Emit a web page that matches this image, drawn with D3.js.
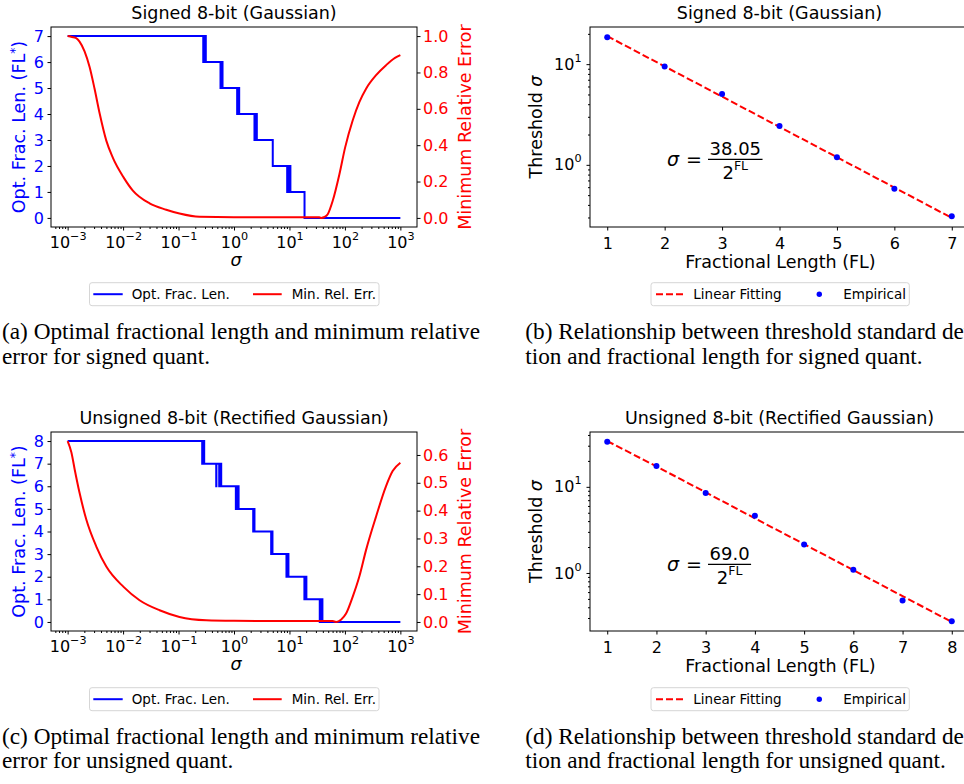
<!DOCTYPE html>
<html>
<head>
<meta charset="utf-8">
<script src="https://cdn.jsdelivr.net/npm/d3@7"></script>
<style>
  body { margin: 0; background: #fff; }
  text { font-family: 'DejaVu Sans', sans-serif; }
  text.caption { font-family: 'Liberation Serif', serif; }
</style>
</head>
<body>
<div id="figure"></div>
<script>
// sigma range swept in the left panels
var sigmaRange = [0.001, 1000];

// (a) signed 8-bit: optimal fractional length steps
var signedLevels = [7, 6, 5, 4, 3, 2, 1, 0];
// sigma values where FL* flips between two neighbouring levels (noisy bands)
var signedFlips = [[0.279, 0.295, 0.310], [0.571, 0.596, 0.621], [1.14, 1.19, 1.24],
  [2.34, 2.46, 2.58], [5.0], [9.1, 9.7, 10.4], [18.7]];
// (a) minimum relative error
var signedErrSigma = [0.001, 0.0012, 0.0014, 0.00164, 0.00202, 0.00249, 0.00306, 0.00378,
  0.00498, 0.00655, 0.0102, 0.015, 0.03, 0.06, 0.104, 0.239, 1, 10, 34.7, 37.2, 43, 49,
  60.3, 79.6, 101, 138, 182, 241, 365, 552, 800, 1000];
var signedErrValue = [1.0, 0.995, 0.99, 0.97, 0.916, 0.83, 0.71, 0.574,
  0.425, 0.33, 0.223, 0.15, 0.08, 0.045, 0.024, 0.006, 0.004, 0.004, 0.004, 0.0, 0.005, 0.02,
  0.094, 0.24, 0.388, 0.536, 0.637, 0.711, 0.785, 0.84, 0.88, 0.895];

// (b) signed threshold sigma vs fractional length
var signedFL = [1, 2, 3, 4, 5, 6, 7];
var signedEmpirical = [18.5, 9.5, 5.05, 2.43, 1.19, 0.58, 0.308];
var signedFitted = [19.0, 9.5, 4.76, 2.38, 1.19, 0.595, 0.297];

// (c) unsigned 8-bit: optimal fractional length steps
var unsignedLevels = [8, 7, 6, 5, 4, 3, 2, 1, 0];
var unsignedFlips = [[0.267, 0.278, 0.290], [0.478, 0.482, 0.541, 0.565, 0.588], [1.08, 1.14, 1.21],
  [2.22, 2.28, 2.34], [4.68, 4.8, 4.94], [8.83, 9.2, 9.59], [18.6, 19.4, 20.2], [35.2, 37.2, 39.3]];
// (c) minimum relative error
var unsignedErrSigma = [0.001, 0.00117, 0.00134, 0.00164, 0.00217, 0.00329, 0.00498, 0.0102,
  0.0198, 0.0455, 0.104, 0.315, 1, 10, 60.3, 69.3, 85, 105, 138, 182, 241, 365, 552, 726, 1000];
var unsignedErrValue = [0.65, 0.609, 0.548, 0.464, 0.368, 0.271, 0.199, 0.126,
  0.078, 0.042, 0.018, 0.006, 0.004, 0.003, 0.003, 0.0, 0.008, 0.03, 0.09, 0.163, 0.259, 0.379, 0.488, 0.542, 0.572];

// (d) unsigned threshold sigma vs fractional length
var unsignedFL = [1, 2, 3, 4, 5, 6, 7, 8];
var unsignedEmpirical = [33.3, 17.5, 8.46, 4.63, 2.14, 1.09, 0.48, 0.275];
var unsignedFitted = [34.0, 17.25, 8.63, 4.31, 2.16, 1.08, 0.539, 0.27];

// captions
var captionA = ['(a) Optimal fractional length and minimum relative', 'error for signed quant.'];
var captionB = ['(b) Relationship between threshold standard devia-', 'tion and fractional length for signed quant.'];
var captionC = ['(c) Optimal fractional length and minimum relative', 'error for unsigned quant.'];
var captionD = ['(d) Relationship between threshold standard devia-', 'tion and fractional length for unsigned quant.'];

var BLUE = '#0000ff', RED = '#ff0000';
var tickFont = 16, labelFont = 17.5, legendFont = 13.5;

var svg = d3.select('#figure').append('svg')
  .attr('width', 964)
  .attr('height', 784);

svg.append('rect').attr('width', 964).attr('height', 784).attr('fill', '#fff');

// matplotlib-like 5% margins
function padExtent(values, log) {
  var f = log ? Math.log10 : function (v) { return v; };
  var lo = f(d3.min(values)), hi = f(d3.max(values)), m = (hi - lo) * 0.05;
  return log ? [Math.pow(10, lo - m), Math.pow(10, hi + m)] : [lo - m, hi + m];
}

function minorLogTicks(domain) {
  var out = [];
  d3.range(-5, 5).forEach(function (e) {
    d3.range(2, 10).forEach(function (m) {
      var v = m * Math.pow(10, e);
      if (v >= domain[0] && v <= domain[1]) out.push(v);
    });
  });
  return out;
}

function decadeTicks(domain) {
  return d3.range(Math.ceil(Math.log10(domain[0])), Math.floor(Math.log10(domain[1])) + 1)
    .map(function (e) { return Math.pow(10, e); });
}

// writes 10^e into a text element
function powLabel(sel, d, size) {
  var e = Math.round(Math.log10(d));
  sel.text(null);
  sel.append('tspan').text('10');
  sel.append('tspan')
    .attr('dy', -0.5 * size)
    .attr('font-size', size * 0.7)
    .text(e < 0 ? '\u2212' + (-e) : String(e));
}

function styleAxis(g, color) {
  g.attr('font-size', tickFont).attr('font-family', null);
  g.select('.domain').remove();
  g.selectAll('.tick line').attr('stroke', '#000');
  g.selectAll('.tick text').attr('fill', color || '#000');
}

function stepPoints(levels, flips) {
  var pts = [[sigmaRange[0], levels[0]]];
  levels.slice(0, -1).forEach(function (lv, i) {
    var cur = lv;
    flips[i].forEach(function (s) {
      pts.push([s, cur]);
      cur = cur === lv ? levels[i + 1] : lv;
      pts.push([s, cur]);
    });
  });
  pts.push([sigmaRange[1], levels[levels.length - 1]]);
  return pts;
}

function drawFrame(g, x0, x1, top, bottom) {
  g.append('rect')
    .attr('x', x0).attr('y', top)
    .attr('width', x1 - x0).attr('height', bottom - top)
    .attr('fill', 'none')
    .attr('stroke', '#000')
    .attr('stroke-width', 1);
}

function drawTitle(g, text, cx, top) {
  g.append('text')
    .attr('x', cx).attr('y', top - 8)
    .attr('text-anchor', 'middle')
    .attr('font-size', labelFont)
    .text(text);
}

function legendBox(g, x, y, w) {
  g.append('rect')
    .attr('x', x).attr('y', y)
    .attr('width', w).attr('height', 23)
    .attr('rx', 2.5)
    .attr('fill', '#fff')
    .attr('stroke', '#d6d6d6')
    .attr('stroke-width', 1);
}

function legendText(g, x, y, text) {
  g.append('text')
    .attr('x', x).attr('y', y + 16)
    .attr('font-size', legendFont)
    .text(text);
}

// ---- left panels: FL* steps (blue) and min relative error (red)
function drawStepPanel(top, bottom, title, levels, flips, errSigma, errValue, errStep) {
  var x0 = 51, x1 = 417;
  var g = svg.append('g');

  var x = d3.scaleLog().domain(padExtent(sigmaRange, true)).range([x0, x1]);
  var y = d3.scaleLinear().domain(padExtent(levels, false)).range([bottom, top]);
  var r = d3.scaleLinear().domain(padExtent(errValue, false)).range([bottom, top]);

  // minor x ticks
  g.append('g')
    .attr('transform', `translate(0, ${bottom})`)
    .call(d3.axisBottom(x).tickValues(minorLogTicks(x.domain())).tickSize(2).tickFormat(function () { return ''; }))
    .call(styleAxis);

  // major x ticks
  var xAxis = g.append('g')
    .attr('transform', `translate(0, ${bottom})`)
    .call(d3.axisBottom(x).tickValues(decadeTicks(x.domain())).tickSize(3.5))
    .call(styleAxis);
  xAxis.selectAll('.tick text').each(function (d) {
    powLabel(d3.select(this).attr('y', 21).attr('dy', null), d, tickFont);
  });

  // left axis (FL*)
  g.append('g')
    .attr('transform', `translate(${x0}, 0)`)
    .call(d3.axisLeft(y).tickValues(d3.range(0, d3.max(levels) + 1)).tickSize(3.5).tickPadding(3.5))
    .call(styleAxis, BLUE);

  // right axis (error)
  g.append('g')
    .attr('transform', `translate(${x1}, 0)`)
    .call(d3.axisRight(r).tickValues(d3.range(0, d3.max(errValue) + 1e-9, errStep))
      .tickFormat(d3.format('.1f')).tickSize(3.5).tickPadding(2.5))
    .call(styleAxis, RED);

  var stepLine = d3.line()
    .x(d => x(d[0]))
    .y(d => y(d[1]));

  g.append('path')
    .attr('d', stepLine(stepPoints(levels, flips)))
    .attr('fill', 'none')
    .attr('stroke', BLUE)
    .attr('stroke-width', 2);

  var errLine = d3.line()
    .x((d, i) => x(errSigma[i]))
    .y(d => r(d))
    .curve(d3.curveMonotoneX);

  g.append('path')
    .attr('d', errLine(errValue))
    .attr('fill', 'none')
    .attr('stroke', RED)
    .attr('stroke-width', 2)
    .attr('stroke-linejoin', 'round');

  drawFrame(g, x0, x1, top, bottom);
  drawTitle(g, title, (x0 + x1) / 2, top);

  // x label
  g.append('text')
    .attr('x', (x0 + x1) / 2 + 2).attr('y', bottom + 39)
    .attr('text-anchor', 'middle')
    .attr('font-size', labelFont)
    .attr('font-style', 'italic')
    .text('\u03c3');

  // left y label
  var yl = g.append('text')
    .attr('transform', `translate(25, ${(top + bottom) / 2}) rotate(-90)`)
    .attr('text-anchor', 'middle')
    .attr('font-size', labelFont)
    .attr('fill', BLUE);
  yl.append('tspan').text('Opt. Frac. Len. (FL');
  yl.append('tspan').attr('dy', -6).attr('font-size', labelFont * 0.7).text('*');
  yl.append('tspan').attr('dy', 6).text(')');

  // right y label
  g.append('text')
    .attr('transform', `translate(471, ${(top + bottom) / 2}) rotate(-90)`)
    .attr('text-anchor', 'middle')
    .attr('font-size', labelFont)
    .attr('fill', RED)
    .text('Minimum Relative Error');

  // legend
  var ly = top + 255.7;
  legendBox(g, 89.5, ly, 289.5);
  g.append('line').attr('x1', 93.3).attr('x2', 122.7).attr('y1', ly + 11.5).attr('y2', ly + 11.5)
    .attr('stroke', BLUE).attr('stroke-width', 2);
  legendText(g, 131.7, ly, 'Opt. Frac. Len.');
  g.append('line').attr('x1', 253).attr('x2', 281.7).attr('y1', ly + 11.5).attr('y2', ly + 11.5)
    .attr('stroke', RED).attr('stroke-width', 2);
  legendText(g, 291.7, ly, 'Min. Rel. Err.');
}

// ---- right panels: threshold sigma vs FL on log scale
function drawFitPanel(top, bottom, title, fl, empirical, fitted, coef) {
  var x0 = 590, x1 = 969;
  var g = svg.append('g');

  var x = d3.scaleLinear().domain(padExtent(fl, false)).range([x0, x1]);
  var y = d3.scaleLog().domain(padExtent(empirical.concat(fitted), true)).range([bottom, top]);

  g.append('g')
    .attr('transform', `translate(0, ${bottom})`)
    .call(d3.axisBottom(x).tickValues(fl).tickFormat(d3.format('d')).tickSize(3.5).tickPadding(7))
    .call(styleAxis);

  g.append('g')
    .attr('transform', `translate(${x0}, 0)`)
    .call(d3.axisLeft(y).tickValues(minorLogTicks(y.domain())).tickSize(2).tickFormat(function () { return ''; }))
    .call(styleAxis);

  var yAxis = g.append('g')
    .attr('transform', `translate(${x0}, 0)`)
    .call(d3.axisLeft(y).tickValues(decadeTicks(y.domain())).tickSize(3.5).tickPadding(5))
    .call(styleAxis);
  yAxis.selectAll('.tick text').each(function (d) {
    powLabel(d3.select(this).attr('dy', '0.32em'), d, tickFont);
  });

  var fitLine = d3.line()
    .x((d, i) => x(fl[i]))
    .y(d => y(d));

  g.append('path')
    .attr('d', fitLine(fitted))
    .attr('fill', 'none')
    .attr('stroke', RED)
    .attr('stroke-width', 2)
    .attr('stroke-dasharray', '7,3');

  g.selectAll('.pt')
    .data(empirical)
    .enter()
    .append('circle')
    .attr('cx', (d, i) => x(fl[i]))
    .attr('cy', d => y(d))
    .attr('r', 3)
    .attr('fill', BLUE);

  drawFrame(g, x0, x1, top, bottom);
  drawTitle(g, title, (x0 + x1) / 2, top);

  g.append('text')
    .attr('x', (x0 + x1) / 2 + 1).attr('y', bottom + 40.5)
    .attr('text-anchor', 'middle')
    .attr('font-size', labelFont)
    .text('Fractional Length (FL)');

  var yl = g.append('text')
    .attr('transform', `translate(542, ${(top + bottom) / 2}) rotate(-90)`)
    .attr('text-anchor', 'middle')
    .attr('font-size', labelFont);
  yl.append('tspan').text('Threshold ');
  yl.append('tspan').attr('font-style', 'italic').text('\u03c3');

  // fitted formula
  var fy = top + 139;
  g.append('text').attr('x', 667).attr('y', fy)
    .attr('font-size', 19).attr('font-style', 'italic').text('\u03c3');
  g.append('text').attr('x', 686).attr('y', fy)
    .attr('font-size', 19).text('=');
  var num = g.append('text').attr('y', fy - 11)
    .attr('font-size', 18).attr('text-anchor', 'middle').text(coef);
  var w = num.node().getComputedTextLength();
  var bx = 708, cx = bx + (w + 3) / 2;
  num.attr('x', cx);
  g.append('line').attr('x1', bx).attr('x2', bx + w + 3)
    .attr('y1', fy - 6.7).attr('y2', fy - 6.7)
    .attr('stroke', '#000').attr('stroke-width', 1.3);
  var den = g.append('text').attr('x', cx).attr('y', fy + 13.3)
    .attr('font-size', 18).attr('text-anchor', 'middle');
  den.append('tspan').text('2');
  den.append('tspan').attr('dy', -9).attr('font-size', 12.5).text('FL');

  // legend
  var ly = top + 255.7;
  legendBox(g, 651, ly, 258.3);
  g.append('line').attr('x1', 656).attr('x2', 683).attr('y1', ly + 11.5).attr('y2', ly + 11.5)
    .attr('stroke', RED).attr('stroke-width', 2).attr('stroke-dasharray', '7,3');
  legendText(g, 693.3, ly, 'Linear Fitting');
  g.append('circle').attr('cx', 819.3).attr('cy', ly + 11.5).attr('r', 2.7).attr('fill', BLUE);
  legendText(g, 843.3, ly, 'Empirical');
}

drawStepPanel(27, 227, 'Signed 8-bit (Gaussian)', signedLevels, signedFlips, signedErrSigma, signedErrValue, 0.2);
drawFitPanel(27, 227, 'Signed 8-bit (Gaussian)', signedFL, signedEmpirical, signedFitted, '38.05');
drawStepPanel(432, 631, 'Unsigned 8-bit (Rectified Gaussian)', unsignedLevels, unsignedFlips, unsignedErrSigma, unsignedErrValue, 0.1);
drawFitPanel(432, 631, 'Unsigned 8-bit (Rectified Gaussian)', unsignedFL, unsignedEmpirical, unsignedFitted, '69.0');

// ---- captions (serif, condensed like the paper)
var capSize = 23;
var probe = svg.append('text').classed('caption', true).attr('font-size', capSize).text(captionA[0]);
var squeeze = 478 / probe.node().getComputedTextLength();
probe.remove();

function drawCaption(lines, x, base) {
  lines.forEach(function (line, i) {
    var t = svg.append('text')
      .classed('caption', true)
      .attr('x', x).attr('y', base + i * 24.4)
      .attr('font-size', capSize)
      .text(line);
    var w = t.node().getComputedTextLength();
    t.attr('textLength', w * squeeze).attr('lengthAdjust', 'spacingAndGlyphs');
  });
}

drawCaption(captionA, 2, 339.3);
drawCaption(captionB, 525.3, 339.3);
drawCaption(captionC, 2, 744);
drawCaption(captionD, 525.3, 744);
</script>
</body>
</html>
